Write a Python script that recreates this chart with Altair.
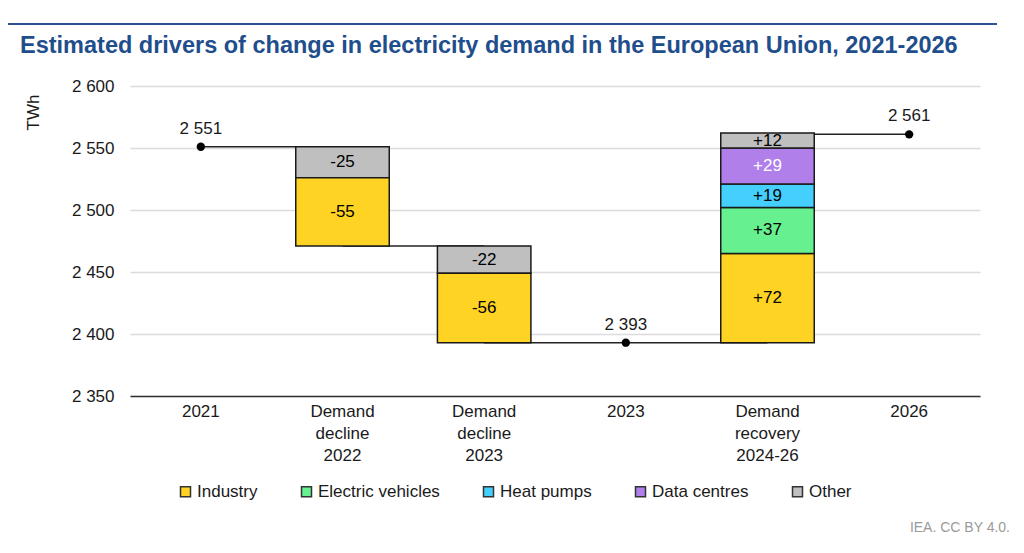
import altair as alt
import pandas as pd

# Categories along the x axis (spaces become line breaks in the axis labels)
categories = ["2021", "Demand decline 2022", "Demand decline 2023", "2023",
              "Demand recovery 2024-26", "2026"]

# Annual totals (TWh)
total_cats = ["2021", "2023", "2026"]
total_vals = [2551, 2393, 2561]

# Drivers of change, stacked from the previous level
drivers = ["Industry", "Electric vehicles", "Heat pumps", "Data centres", "Other"]
driver_colors = ["#FFD324", "#66F08F", "#45CFFF", "#B07FEA", "#BFBFBF"]

step_cats = ["Demand decline 2022", "Demand decline 2022",
             "Demand decline 2023", "Demand decline 2023",
             "Demand recovery 2024-26", "Demand recovery 2024-26",
             "Demand recovery 2024-26", "Demand recovery 2024-26",
             "Demand recovery 2024-26"]
step_drivers = ["Other", "Industry", "Other", "Industry",
                "Industry", "Electric vehicles", "Heat pumps", "Data centres", "Other"]
step_values = [-25, -55, -22, -56, 72, 37, 19, 29, 12]

# Connector lines between bars (id, category, level)
conn_ids = [0, 0, 1, 1, 2, 2, 2, 3, 3]
conn_cats = ["2021", "Demand decline 2022", "Demand decline 2022", "Demand decline 2023",
             "Demand decline 2023", "2023", "Demand recovery 2024-26",
             "Demand recovery 2024-26", "2026"]
conn_levels = [2551, 2551, 2471, 2471, 2393, 2393, 2393, 2561, 2561]

FONT = "Liberation Sans"
TEXT = "#1a1a1a"
FS = 17

# Build the floating segments from a running level starting at the 2021 total
rows = []
level = total_vals[0]
for c, d, v in zip(step_cats, step_drivers, step_values):
    start, end = level, level + v
    rows.append({"cat": c, "driver": d, "y0": start, "y1": end,
                 "mid": (start + end) / 2, "label": f"{v:+d}",
                 "txtcol": "white" if d == "Data centres" else "black"})
    level = end
seg = pd.DataFrame(rows)

tot = pd.DataFrame({"cat": total_cats, "val": total_vals})
tot["label"] = [f"{v:,}".replace(",", " ") for v in total_vals]

conn = pd.DataFrame({"id": conn_ids, "cat": conn_cats, "lvl": conn_levels,
                     "order": list(range(len(conn_ids)))})

x_enc = alt.X("cat:N", sort=categories,
              scale=alt.Scale(domain=categories, paddingInner=0.34, paddingOuter=0.17),
              axis=alt.Axis(title=None, labelAngle=0, ticks=False, labelFontSize=FS,
                            labelColor=TEXT, labelFont=FONT, labelPadding=7,
                            labelLineHeight=22, labelExpr="split(datum.label, ' ')",
                            domainColor="#333333", domainWidth=1.5, grid=False))
y_scale = alt.Scale(domain=[2350, 2600], nice=False, zero=False)
y_axis = alt.Axis(title="TWh", values=[2350, 2400, 2450, 2500, 2550, 2600],
                  labelExpr="replace(format(datum.value, ','), ',', ' ')",
                  labelFontSize=FS, labelColor=TEXT, labelFont=FONT, labelPadding=16,
                  ticks=False, domain=False, grid=True, gridColor="#dcdcdc", gridWidth=1.5,
                  titleFont=FONT, titleFontSize=FS, titleFontWeight="normal", titleColor=TEXT,
                  titleAngle=270, titleX=-97, titleY=26, titleAlign="center",
                  titleBaseline="middle")

connectors = alt.Chart(conn).mark_line(color="#222222", strokeWidth=1.5).encode(
    x=x_enc,
    y=alt.Y("lvl:Q", scale=y_scale, axis=y_axis),
    detail="id:N",
    order="order:Q",
)

bars = alt.Chart(seg).mark_bar(stroke="#1a1a1a", strokeWidth=1.5).encode(
    x=x_enc,
    y=alt.Y("y0:Q", scale=y_scale),
    y2="y1:Q",
    fill=alt.Fill("driver:N",
                  scale=alt.Scale(domain=drivers, range=driver_colors),
                  legend=alt.Legend(title=None, orient="none", legendX=47, legendY=397,
                                    direction="horizontal", symbolType="square",
                                    symbolSize=100, symbolStrokeColor="#333333",
                                    symbolStrokeWidth=1.5, labelFontSize=FS,
                                    labelFont=FONT, labelColor=TEXT, labelOffset=3,
                                    columnPadding=40)),
)

seg_labels = alt.Chart(seg).mark_text(fontSize=FS, font=FONT, baseline="middle").encode(
    x=x_enc,
    y=alt.Y("mid:Q", scale=y_scale),
    text="label:N",
    color=alt.Color("txtcol:N", scale=None),
)

points = alt.Chart(tot).mark_circle(size=70, color="black", opacity=1).encode(
    x=x_enc,
    y=alt.Y("val:Q", scale=y_scale),
)

point_labels = alt.Chart(tot).mark_text(fontSize=FS, font=FONT, color=TEXT, dy=-18).encode(
    x=x_enc,
    y=alt.Y("val:Q", scale=y_scale),
    text="label:N",
)

top_rule = alt.Chart(pd.DataFrame({"a": [0]})).mark_rule(
    color="#2E5391", strokeWidth=2).encode(
    x=alt.value(-122), x2=alt.value(867), y=alt.value(-62))

source = alt.Chart(pd.DataFrame({"t": ["IEA. CC BY 4.0."]})).mark_text(
    align="right", baseline="middle", fontSize=14, font=FONT, color="#9a9a9a").encode(
    x=alt.value(880), y=alt.value(442), text="t:N")

chart = alt.layer(
    connectors, bars, seg_labels, points, point_labels, top_rule, source
).properties(
    width=850, height=310,
    title=alt.Title(
        "Estimated drivers of change in electricity demand in the European Union, 2021-2026",
        anchor="start", frame="group", dx=-110, offset=-34, fontSize=23.5,
        font=FONT, fontWeight="bold", color="#1F4E8C"),
    autosize=alt.AutoSizeParams(type="none"),
    padding={"left": 130, "top": 86, "right": 44, "bottom": 157},
).configure_view(stroke=None)

chart.save("out.html", embed_options={"renderer": "svg", "actions": False})
